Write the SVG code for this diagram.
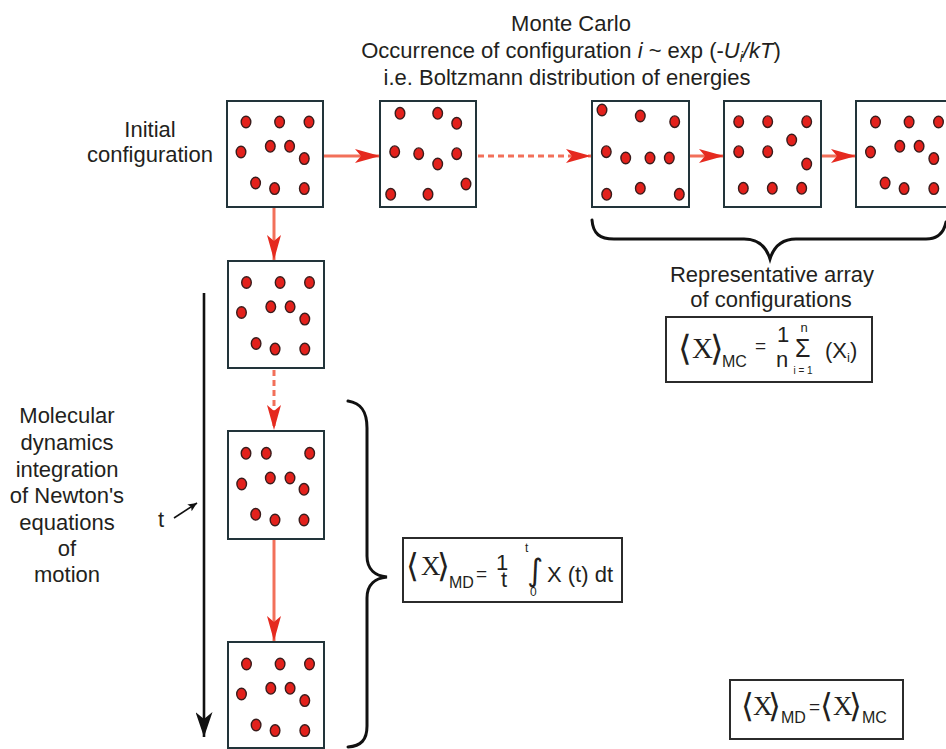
<svg xmlns="http://www.w3.org/2000/svg" width="946" height="749" viewBox="0 0 946 749">
<style>
text{font-family:"Liberation Sans",Arial,sans-serif;fill:#231f20}
.lbl{font-size:22px;text-anchor:middle}
.box{fill:#fff;stroke:#22343a;stroke-width:2}
.dot{fill:#e3211c;stroke:#3a1c1c;stroke-width:1.4}
.con{fill:none;stroke:#f2705a;stroke-width:3}
.dash{stroke-dasharray:6 4}
.blk{fill:none;stroke:#111;stroke-width:2.6}
.brace{fill:none;stroke:#111;stroke-width:3;stroke-linecap:round}
.fbox{fill:#fff;stroke:#2b2b2b;stroke-width:2}
.ser{font-family:"Liberation Serif","Times New Roman",serif}
.ang{font-family:"DejaVu Sans",sans-serif}
.it{font-style:italic}
</style>
<defs>
<marker id="ah" markerUnits="userSpaceOnUse" viewBox="0 0 26 14" markerWidth="26" markerHeight="14" refX="25" refY="7" orient="auto"><path d="M0,0 L25,7 L0,14 L6,7 Z" fill="#e52a1f"/></marker>
<marker id="bh" markerUnits="userSpaceOnUse" viewBox="0 0 26 17" markerWidth="26" markerHeight="17" refX="25" refY="8.5" orient="auto"><path d="M0,0 L25,8.5 L0,17 L7,8.5 Z" fill="#111"/></marker>
<marker id="sh" markerUnits="userSpaceOnUse" viewBox="0 0 10 8" markerWidth="10" markerHeight="8" refX="9" refY="4" orient="auto"><path d="M0,0 L9,4 L0,8 L2,4 Z" fill="#111"/></marker>
<g id="p1">
<ellipse class="dot" cx="19" cy="21" rx="4.8" ry="5.8"/>
<ellipse class="dot" cx="52.6" cy="21" rx="4.8" ry="5.8"/>
<ellipse class="dot" cx="82" cy="21" rx="4.8" ry="5.8"/>
<ellipse class="dot" cx="14" cy="51" rx="4.8" ry="5.8"/>
<ellipse class="dot" cx="43.3" cy="45.3" rx="4.8" ry="5.8"/>
<ellipse class="dot" cx="62.6" cy="45.3" rx="4.8" ry="5.8"/>
<ellipse class="dot" cx="77.3" cy="57.6" rx="4.8" ry="5.8"/>
<ellipse class="dot" cx="28.6" cy="82" rx="4.8" ry="5.8"/>
<ellipse class="dot" cx="47.6" cy="87.6" rx="4.8" ry="5.8"/>
<ellipse class="dot" cx="77.3" cy="87.6" rx="4.8" ry="5.8"/>
</g>
</defs>
<rect width="946" height="749" fill="#fff"/>

<!-- titles and labels -->
<g id="title">
<text class="lbl" x="571" y="31">Monte Carlo</text>
<text class="lbl" x="571" y="58">Occurrence of configuration <tspan class="it">i</tspan> ~ exp (-<tspan class="it">U</tspan><tspan class="it" font-size="14" dy="4">i</tspan><tspan class="it" dy="-4">/kT</tspan>)</text>
<text class="lbl" x="567" y="85">i.e. Boltzmann distribution of energies</text>
</g>
<g id="initial-label">
<text class="lbl" x="150" y="137">Initial</text>
<text class="lbl" x="150" y="162">configuration</text>
</g>
<g id="md-label">
<text class="lbl" x="67" y="423">Molecular</text>
<text class="lbl" x="67" y="450">dynamics</text>
<text class="lbl" x="67" y="477">integration</text>
<text class="lbl" x="67" y="503">of Newton's</text>
<text class="lbl" x="67" y="530">equations</text>
<text class="lbl" x="67" y="556">of</text>
<text class="lbl" x="67" y="582">motion</text>
</g>
<g id="rep-label">
<text class="lbl" x="772" y="282">Representative array</text>
<text class="lbl" x="771" y="307">of configurations</text>
</g>

<!-- connectors -->
<g id="connectors">
<line class="con" x1="323" y1="156" x2="380" y2="156" marker-end="url(#ah)"/>
<line class="con dash" x1="478" y1="156" x2="591" y2="156" marker-end="url(#ah)"/>
<line class="con" x1="689" y1="156" x2="724" y2="156" marker-end="url(#ah)"/>
<line class="con" x1="821" y1="156" x2="856" y2="156" marker-end="url(#ah)"/>
<line class="con" x1="274" y1="207" x2="274" y2="260" marker-end="url(#ah)"/>
<line class="con dash" x1="274" y1="370" x2="274" y2="430" marker-end="url(#ah)"/>
<line class="con" x1="274" y1="539" x2="274" y2="641" marker-end="url(#ah)"/>
<line class="blk" x1="204" y1="293" x2="204" y2="737" marker-end="url(#bh)"/>
<line x1="174" y1="518" x2="197" y2="503" stroke="#111" stroke-width="1.6" marker-end="url(#sh)"/>
<path class="brace" d="M592,220 C593,234 600,239 614,239 L744,239 C758,239 766,246 770,259 C774,246 782,239 796,239 L926,239 C939,239 944,232 946,222"/>
<path class="brace" d="M348,401 C361,403 367,411 367,428 L367,556 C367,570 376,576 387,577 C376,578 367,584 367,598 L367,726 C367,740 361,746 348,747"/>
</g>
<text x="158" y="527" font-size="22">t</text>

<!-- Monte Carlo boxes -->
<g id="mc1">
<rect class="box" x="227" y="101" width="96" height="106"/>
<use href="#p1" x="227" y="101"/>
</g>
<g id="mc2">
<rect class="box" x="380" y="101" width="96" height="106"/>
<ellipse class="dot" cx="400" cy="113.3" rx="4.8" ry="5.8"/>
<ellipse class="dot" cx="437.7" cy="113.3" rx="4.8" ry="5.8"/>
<ellipse class="dot" cx="456.7" cy="123.3" rx="4.8" ry="5.8"/>
<ellipse class="dot" cx="394.7" cy="151.7" rx="4.8" ry="5.8"/>
<ellipse class="dot" cx="418.7" cy="153.7" rx="4.8" ry="5.8"/>
<ellipse class="dot" cx="437.7" cy="164" rx="4.8" ry="5.8"/>
<ellipse class="dot" cx="456.7" cy="153.7" rx="4.8" ry="5.8"/>
<ellipse class="dot" cx="466" cy="184" rx="4.8" ry="5.8"/>
<ellipse class="dot" cx="390.7" cy="194.3" rx="4.8" ry="5.8"/>
<ellipse class="dot" cx="428" cy="194.3" rx="4.8" ry="5.8"/>
</g>
<g id="mc3">
<rect class="box" x="592" y="101" width="97" height="106"/>
<ellipse class="dot" cx="602" cy="110" rx="4.8" ry="5.8"/>
<ellipse class="dot" cx="640.3" cy="116" rx="4.8" ry="5.8"/>
<ellipse class="dot" cx="674.7" cy="121.7" rx="4.8" ry="5.8"/>
<ellipse class="dot" cx="606.3" cy="151.7" rx="4.8" ry="5.8"/>
<ellipse class="dot" cx="625.7" cy="158" rx="4.8" ry="5.8"/>
<ellipse class="dot" cx="650" cy="158" rx="4.8" ry="5.8"/>
<ellipse class="dot" cx="669.3" cy="158" rx="4.8" ry="5.8"/>
<ellipse class="dot" cx="606.7" cy="194.3" rx="4.8" ry="5.8"/>
<ellipse class="dot" cx="640.3" cy="188.3" rx="4.8" ry="5.8"/>
<ellipse class="dot" cx="679.3" cy="194.3" rx="4.8" ry="5.8"/>
</g>
<g id="mc4">
<rect class="box" x="724" y="101" width="97" height="106"/>
<ellipse class="dot" cx="738.7" cy="121.7" rx="4.8" ry="5.8"/>
<ellipse class="dot" cx="767.7" cy="121.7" rx="4.8" ry="5.8"/>
<ellipse class="dot" cx="806.7" cy="121.7" rx="4.8" ry="5.8"/>
<ellipse class="dot" cx="791.7" cy="140" rx="4.8" ry="5.8"/>
<ellipse class="dot" cx="738.7" cy="151.7" rx="4.8" ry="5.8"/>
<ellipse class="dot" cx="767.7" cy="151.7" rx="4.8" ry="5.8"/>
<ellipse class="dot" cx="806.7" cy="164" rx="4.8" ry="5.8"/>
<ellipse class="dot" cx="743.3" cy="188.3" rx="4.8" ry="5.8"/>
<ellipse class="dot" cx="772.3" cy="188.3" rx="4.8" ry="5.8"/>
<ellipse class="dot" cx="801.7" cy="188.3" rx="4.8" ry="5.8"/>
</g>
<g id="mc5">
<rect class="box" x="856" y="101" width="96" height="106"/>
<use href="#p1" x="856.5" y="101"/>
</g>

<!-- Molecular dynamics boxes -->
<g id="md1">
<rect class="box" x="228" y="261" width="96" height="107"/>
<use href="#p1" x="227.5" y="261.5"/>
</g>
<g id="md2">
<rect class="box" x="228" y="431" width="96" height="108"/>
<ellipse class="dot" cx="246" cy="453.3" rx="4.8" ry="5.8"/>
<ellipse class="dot" cx="266.3" cy="453.3" rx="4.8" ry="5.8"/>
<ellipse class="dot" cx="309.7" cy="453.3" rx="4.8" ry="5.8"/>
<ellipse class="dot" cx="241.7" cy="484" rx="4.8" ry="5.8"/>
<ellipse class="dot" cx="270.3" cy="478" rx="4.8" ry="5.8"/>
<ellipse class="dot" cx="290" cy="478" rx="4.8" ry="5.8"/>
<ellipse class="dot" cx="304" cy="489.3" rx="4.8" ry="5.8"/>
<ellipse class="dot" cx="255.7" cy="514.3" rx="4.8" ry="5.8"/>
<ellipse class="dot" cx="275" cy="520" rx="4.8" ry="5.8"/>
<ellipse class="dot" cx="304" cy="520" rx="4.8" ry="5.8"/>
</g>
<g id="md3">
<rect class="box" x="228" y="642" width="96" height="106"/>
<use href="#p1" x="227.5" y="643"/>
</g>

<!-- formulas -->
<g id="mc-formula">
<rect class="fbox" x="666" y="317" width="206" height="65"/>
<text class="ang" x="678" y="360" font-size="35">⟨</text>
<text class="ser" x="692" y="358" font-size="29">X</text>
<text class="ang" x="710" y="360" font-size="35">⟩</text>
<text x="722" y="367" font-size="16">MC</text>
<text x="755" y="352" font-size="19">=</text>
<text x="777" y="342" font-size="22">1</text>
<text x="776" y="367" font-size="22">n</text>
<text x="795" y="357" font-size="25">Σ</text>
<text x="804" y="332" font-size="13" text-anchor="middle">n</text>
<text x="803" y="374" font-size="10" text-anchor="middle">i = 1</text>
<text x="825" y="358" font-size="22">(X<tspan font-size="13" dy="4">i</tspan><tspan dy="-4">)</tspan></text>
</g>
<g id="md-formula">
<rect class="fbox" x="403" y="538" width="219" height="64"/>
<text class="ang" x="406" y="577" font-size="33">⟨</text>
<text class="ser" x="421" y="575" font-size="27">X</text>
<text class="ang" x="437" y="577" font-size="33">⟩</text>
<text x="449" y="588" font-size="16">MD</text>
<text x="476" y="580" font-size="19">=</text>
<text x="496" y="570" font-size="22">1</text>
<text x="501" y="587" font-size="22">t</text>
<text x="525" y="552" font-size="12">t</text>
<text class="ang" x="527" y="581" font-size="31">∫</text>
<text x="530" y="596" font-size="12">0</text>
<text x="547" y="582" font-size="22">X (t) dt</text>
</g>
<g id="eq-formula">
<rect class="fbox" x="730" y="680" width="173" height="59"/>
<text class="ang" x="741" y="717" font-size="33">⟨</text>
<text class="ser" x="753" y="715" font-size="27">X</text>
<text class="ang" x="768" y="717" font-size="33">⟩</text>
<text x="781" y="723" font-size="16">MD</text>
<text x="809" y="713" font-size="19">=</text>
<text class="ang" x="820" y="717" font-size="33">⟨</text>
<text class="ser" x="833" y="715" font-size="27">X</text>
<text class="ang" x="849" y="717" font-size="33">⟩</text>
<text x="862" y="723" font-size="16">MC</text>
</g>
</svg>
